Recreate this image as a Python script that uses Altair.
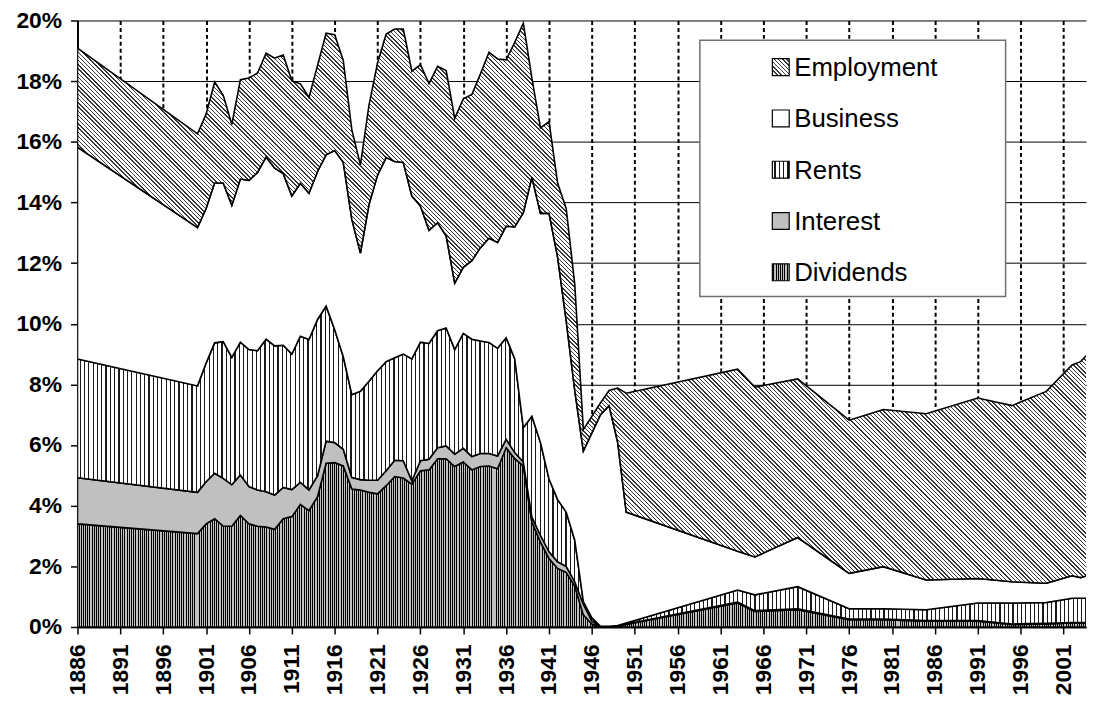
import math
import altair as alt
import pandas as pd

# ---------------- data (percent of total income) ----------------
years = [1886,
         1900, 1901, 1902, 1903, 1904, 1905, 1906, 1907, 1908, 1909,
         1910, 1911, 1912, 1913, 1914, 1915, 1916, 1917, 1918, 1919,
         1920, 1921, 1922, 1923, 1924, 1925, 1926, 1927, 1928, 1929,
         1930, 1931, 1932, 1933, 1934, 1935, 1936, 1937, 1938, 1939,
         1940, 1941, 1942, 1943, 1944, 1945, 1946, 1947, 1948, 1949,
         1950,
         1963, 1965, 1970, 1976, 1980, 1985, 1991, 1995, 1999, 2002, 2003, 2004]

dividends = [3.40,
             3.08, 3.40, 3.57, 3.33, 3.32, 3.68, 3.40, 3.32, 3.30, 3.22,
             3.57, 3.64, 4.04, 3.84, 4.30, 5.40, 5.42, 5.31, 4.55, 4.52,
             4.44, 4.39, 4.66, 4.96, 4.91, 4.71, 5.15, 5.18, 5.55, 5.55,
             5.29, 5.44, 5.18, 5.29, 5.31, 5.22, 5.91, 5.55, 5.31, 3.46,
             2.80, 2.26, 1.93, 1.80, 1.35, 0.40, 0.10, 0.00, 0.00, 0.02,
             0.08,
             0.79, 0.51, 0.57, 0.24, 0.24, 0.19, 0.19, 0.08, 0.10, 0.13, 0.13, 0.13]

interest = [1.52,
            1.36, 1.39, 1.50, 1.57, 1.37, 1.33, 1.23, 1.20, 1.16, 1.13,
            1.03, 0.89, 0.73, 0.68, 0.69, 0.73, 0.66, 0.55, 0.38, 0.34,
            0.40, 0.45, 0.49, 0.54, 0.57, 0.11, 0.33, 0.35, 0.36, 0.42,
            0.41, 0.45, 0.44, 0.43, 0.41, 0.42, 0.28, 0.20, 0.13, 0.16,
            0.22, 0.22, 0.22, 0.20, 0.14, 0.35, 0.10, 0.01, 0.01, 0.01,
            0.02,
            0.03, 0.03, 0.03, 0.02, 0.02, 0.02, 0.02, 0.02, 0.02, 0.02, 0.02, 0.02]

rents = [3.92,
         3.51, 3.91, 4.30, 4.51, 4.20, 4.38, 4.52, 4.59, 5.03, 4.92,
         4.69, 4.47, 4.82, 4.96, 5.15, 4.45, 3.72, 3.05, 2.73, 2.91,
         3.26, 3.61, 3.60, 3.38, 3.52, 4.02, 3.91, 3.82, 3.86, 3.89,
         3.45, 3.79, 3.87, 3.71, 3.66, 3.55, 3.35, 3.09, 1.13, 3.33,
         3.06, 2.40, 2.05, 1.79, 1.37, 0.09, 0.10, 0.01, 0.01, 0.02,
         0.03,
         0.40, 0.52, 0.73, 0.34, 0.34, 0.36, 0.58, 0.69, 0.69, 0.80, 0.80, 0.80]

business = [6.98,
            5.22, 5.10, 5.27, 5.23, 5.01, 5.38, 5.58, 5.88, 6.01, 5.86,
            5.66, 5.21, 5.04, 4.82, 4.88, 4.99, 5.91, 6.41, 5.78, 4.56,
            5.83, 6.45, 6.73, 6.47, 6.32, 5.37, 4.49, 3.73, 3.56, 3.04,
            2.19, 2.18, 2.59, 3.08, 3.44, 3.49, 3.68, 4.35, 7.09, 7.88,
            7.56, 8.76, 8.00, 6.31, 4.94, 4.96, 6.10, 6.98, 7.28, 6.05,
            3.66,
            1.28, 1.25, 1.62, 1.17, 1.39, 0.98, 0.81, 0.70, 0.63, 0.74, 0.68, 0.76]

employment = [3.27,
              3.09, 3.11, 3.33, 2.89, 2.67, 3.28, 3.37, 3.28, 3.42, 3.63,
              3.91, 3.80, 3.28, 3.16, 3.50, 4.01, 3.82, 3.36, 2.95, 2.91,
              3.28, 3.70, 4.07, 4.37, 4.40, 4.12, 4.66, 4.84, 5.16, 5.45,
              5.43, 5.56, 5.48, 5.73, 6.13, 6.05, 5.48, 6.09, 6.25, 3.27,
              2.82, 3.02, 2.44, 3.70, 3.50, 0.71, 0.55, 0.39, 0.50, 1.78,
              3.92,
              6.00, 5.60, 5.23, 5.05, 5.18, 5.48, 5.95, 5.81, 6.33, 6.95, 7.12, 7.34]

stack_order = ["Dividends", "Interest", "Rents", "Business", "Employment"]
legend_labels = ["Employment", "Business", "Rents", "Interest", "Dividends"]
x_tick_values = [1886, 1891, 1896, 1901, 1906, 1911, 1916, 1921, 1926, 1931,
                 1936, 1941, 1946, 1951, 1956, 1961, 1966, 1971, 1976, 1981,
                 1986, 1991, 1996, 2001]
y_tick_values = [0, 2, 4, 6, 8, 10, 12, 14, 16, 18, 20]

series = {"Dividends": dividends, "Interest": interest, "Rents": rents,
          "Business": business, "Employment": employment}

rows = []
for k, name in enumerate(stack_order):
    for yr, v in zip(years, series[name]):
        rows.append({"year": yr, "category": name, "order": k, "value": v})
df = pd.DataFrame(rows)

# ---------------- geometry / styles ----------------
W, H = 1016, 611
X_MIN, X_MAX = 1886, 2003.63
Y_MAX = 20.0

def px_x(yr):
    return (yr - X_MIN) / (X_MAX - X_MIN) * W

bbox_w = px_x(max(years)) - px_x(min(years))
totals = [sum(series[n][i] for n in stack_order) for i in range(len(years))]
emp_base = [sum(series[n][i] for n in stack_order[:4]) for i in range(len(years))]
emp_h = (max(totals) - min(emp_base)) / Y_MAX * H


def stripes_stops(length, period, lw, line, bg, phase=0.0):
    stops = [{"offset": 0, "color": bg}]
    s = phase
    while s < length:
        a = round(max(s, 0) / length, 6)
        b = round(min(s + lw, length) / length, 6)
        stops += [{"offset": a, "color": bg}, {"offset": a, "color": line},
                  {"offset": b, "color": line}, {"offset": b, "color": bg}]
        s += period
    stops.append({"offset": 1, "color": bg})
    return stops


def vstripes(width, period, lw, line, bg):
    return {"gradient": "linear", "x1": 0, "y1": 0, "x2": 1, "y2": 0,
            "stops": stripes_stops(width, period, lw, line, bg, period / 2)}


def dstripes(w, h, period, lw, line, bg):
    r = h / w
    k = (1 + r) / (1 + r * r)
    length = (w + h) / math.sqrt(2)
    return {"gradient": "linear", "x1": 0, "y1": 1, "x2": round(k, 6),
            "y2": round(1 - k * r, 6),
            "stops": stripes_stops(length, period, lw, line, bg, 0.5)}


def fills_for(w, h):
    return {
        "Dividends": vstripes(w, 2.2, 1.0, "#000000", "#c0c0c0"),
        "Interest": "#c0c0c0",
        "Rents": vstripes(w, 4.33, 1.2, "#1a1a1a", "#ffffff"),
        "Business": "#ffffff",
        "Employment": dstripes(w, h, 3.0, 1.0, "#3a3a3a", "#ffffff"),
    }

area_fills = fills_for(bbox_w, emp_h)
sym = 17
sym_fills = fills_for(sym, sym)

FONT = "Liberation Sans"

x_axis = alt.Axis(values=x_tick_values, format="d", labelAngle=-90, title=None,
                  labelFont=FONT, labelFontWeight="bold", labelFontSize=23,
                  labelColor="black", labelPadding=10, labelOverlap=False,
                  labelFlush=False, labelBound=False,
                  tickSize=7, tickColor="black", tickWidth=1.5,
                  domainColor="black", domainWidth=2,
                  grid=True, gridColor="black", gridDash=[4, 3], gridWidth=2,
                  gridOpacity=1)
y_axis = alt.Axis(values=y_tick_values, labelExpr="datum.value + '%'", title=None,
                  labelFont=FONT, labelFontWeight="bold", labelFontSize=23,
                  labelColor="black", labelPadding=9,
                  tickSize=7, tickColor="black", tickWidth=1.5,
                  domainColor="black", domainWidth=2,
                  grid=True, gridColor="black", gridWidth=1, gridOpacity=1)

x_enc = alt.X("year:Q", scale=alt.Scale(domain=[X_MIN, X_MAX], nice=False, zero=False),
              axis=x_axis)
y_enc = alt.Y("y1:Q", scale=alt.Scale(domain=[0, Y_MAX], nice=False), axis=y_axis)
y2_enc = alt.Y2("y0:Q")

base = alt.Chart(df).transform_stack(
    stack="value", groupby=["year"], as_=["y0", "y1"],
    sort=[alt.SortField("order", order="ascending")],
)

area_layers = []
for name in stack_order:
    area_layers.append(
        base.transform_filter(alt.datum.category == name)
        .mark_area(fill=area_fills[name], fillOpacity=1, stroke="black",
                   strokeWidth=1.6, clip=True, interpolate="linear")
        .encode(x=x_enc, y=y_enc, y2=y2_enc)
    )

# ---------------- legend (drawn as a box of its own) ----------------
box_x, box_x2, box_y, box_y2 = 627, 935, 20, 278
row_y = [47, 98.7, 150.3, 202, 253.7]
sym_x = 700
text_x = 722

legend_layers = [
    alt.Chart(alt.Data(values=[{"k": 0}])).mark_rect(
        fill="white", stroke="#707070", strokeWidth=1.5
    ).encode(x=alt.value(box_x), x2=alt.value(box_x2),
             y=alt.value(box_y), y2=alt.value(box_y2))
]
for label, cy in zip(legend_labels, row_y):
    legend_layers.append(
        alt.Chart(alt.Data(values=[{"label": label}])).mark_rect(
            fill=sym_fills[label], stroke="black", strokeWidth=1.2
        ).encode(x=alt.value(sym_x), x2=alt.value(sym_x + sym),
                 y=alt.value(cy - sym / 2), y2=alt.value(cy + sym / 2))
    )
    legend_layers.append(
        alt.Chart(alt.Data(values=[{"label": label}])).mark_text(
            align="left", baseline="middle", font=FONT, fontSize=26,
            color="black", dy=1
        ).encode(x=alt.value(text_x), y=alt.value(cy), text="label:N")
    )

chart = alt.layer(*area_layers, *legend_layers).properties(
    width=W, height=H,
    autosize=alt.AutoSizeParams(type="none"),
    padding={"left": 70, "top": 10, "right": 1, "bottom": 74},
    background="white",
).configure_view(strokeWidth=0)

chart.save("out.html", embed_options={"renderer": "svg", "actions": False})
